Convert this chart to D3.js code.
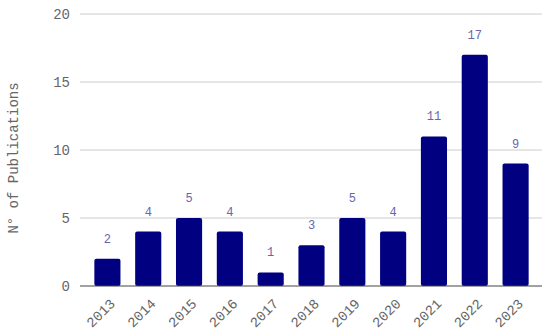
<!DOCTYPE html>
<html><head><meta charset="utf-8">
<script src="https://cdn.jsdelivr.net/npm/d3@7"></script>
<style>body{margin:0;background:#fff}svg{display:block}</style>
</head><body><svg id="c" width="550" height="336"></svg>
<script>
const years = ["2013","2014","2015","2016","2017","2018","2019","2020","2021","2022","2023"];
const publications = [2,4,5,4,1,3,5,4,11,17,9];
const yTicks = [0,5,10,15,20];
const yTitle = "N° of Publications";

const svg = d3.select("#c");
const font = "'Liberation Mono','Courier New',monospace";
const x = d3.scaleBand().domain(years).range([87,536]).paddingInner(0.36).paddingOuter(0.18);
const y = d3.scaleLinear().domain([0,20]).range([286,14]);

// gridlines
svg.append("g").selectAll("line").data(yTicks.filter(t=>t>0)).join("line")
  .attr("x1",80).attr("x2",542).attr("y1",d=>y(d)).attr("y2",d=>y(d))
  .attr("stroke","#cccccc").attr("stroke-width",1);

// y axis labels
const ya = svg.append("g").attr("transform","translate(80,0)")
  .call(d3.axisLeft(y).tickValues(yTicks).tickSize(0).tickPadding(10));
ya.select(".domain").remove();
ya.selectAll("text").attr("font-family",font).attr("font-size",14).attr("fill","#666");

// bars
svg.append("g").selectAll("rect").data(publications).join("rect")
  .attr("x",(d,i)=>x(years[i])).attr("width",x.bandwidth())
  .attr("y",d=>y(d)).attr("height",d=>y(0)-y(d))
  .attr("rx",2).attr("fill","#000080");

// value labels
svg.append("g").selectAll("text").data(publications).join("text")
  .attr("x",(d,i)=>x(years[i])+x.bandwidth()/2).attr("y",d=>y(d)-16)
  .attr("text-anchor","middle").attr("font-family",font).attr("font-size",12)
  .attr("fill","#6666aa").text(d=>d);

// baseline
svg.append("line").attr("x1",80).attr("x2",542).attr("y1",y(0)).attr("y2",y(0))
  .attr("stroke","#444").attr("stroke-width",1.2);

// x axis
const xa = svg.append("g").attr("transform",`translate(0,${y(0)})`)
  .call(d3.axisBottom(x).tickSize(0).tickPadding(0));
xa.select(".domain").remove();
xa.selectAll("text").attr("font-family",font).attr("font-size",14).attr("fill","#666")
  .attr("text-anchor","end").attr("x",0).attr("y",0).attr("dy","0.35em")
  .attr("transform","translate(5,15) rotate(-45)");

// y title
svg.append("text").attr("transform","translate(18,158) rotate(-90)")
  .attr("text-anchor","middle").attr("font-family",font).attr("font-size",14)
  .attr("fill","#666").text(yTitle);
</script></body></html>
